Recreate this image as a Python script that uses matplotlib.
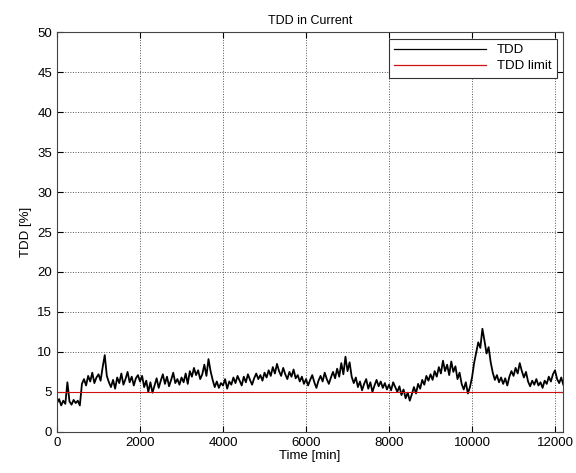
import matplotlib
matplotlib.use("Agg")
import matplotlib.pyplot as plt
import numpy as np

# TDD samples every 50 min (one row = 1000 min)
tdd = [
    3.6, 4.1, 3.3, 3.9, 3.5, 6.2, 3.8, 3.4, 4.0, 3.6, 3.9, 3.3, 6.0, 6.6, 5.8, 7.0, 6.3, 7.4, 6.1, 6.8,
    7.2, 6.4, 8.1, 9.6, 7.0, 6.2, 5.6, 6.5, 5.4, 6.8, 6.1, 7.3, 5.9, 6.6, 7.5, 6.2, 6.9, 5.8, 6.7, 7.1,
    6.3, 7.0, 5.6, 6.4, 5.0, 6.2, 4.9, 5.8, 6.7, 5.5, 6.4, 7.2, 6.0, 6.9, 5.7, 6.5, 7.4, 6.1, 6.6, 5.9,
    6.8, 6.2, 7.3, 6.0, 7.6, 6.9, 8.0, 7.1, 7.7, 6.6, 7.2, 8.4, 7.0, 9.1, 7.6, 6.5, 5.6, 6.3, 5.5, 6.1,
    5.8, 6.6, 5.4, 6.3, 5.9, 6.8, 6.1, 7.0, 6.4, 5.8, 6.9, 6.2, 7.2, 6.5, 5.9, 6.7, 7.3, 6.6, 7.1, 6.4,
    7.4, 6.8, 7.7, 7.0, 8.1, 7.3, 8.5, 7.6, 7.0, 8.0, 7.2, 6.6, 7.5, 6.9, 7.8, 6.7, 7.1, 6.3, 6.9, 6.0,
    6.6, 5.8, 6.5, 7.1, 6.2, 5.5, 6.4, 7.0, 6.3, 7.4, 6.6, 6.0, 6.8, 7.5, 6.7, 7.9, 6.9, 8.6, 7.2, 9.4,
    7.6, 8.7, 6.9, 6.1, 6.8, 5.6, 6.3, 5.2, 6.0, 6.6, 5.4, 6.2, 5.0, 5.8, 6.5, 5.7, 6.3, 5.5, 6.1, 5.3,
    5.9, 5.2, 6.2, 5.6, 5.0, 5.7, 4.6, 5.3, 4.2, 4.9, 3.9, 4.7, 5.6, 4.8, 6.0, 5.4, 6.5, 5.9, 7.0, 6.4,
    7.2, 6.5, 7.6, 6.9, 8.1, 7.3, 8.9, 7.6, 8.4, 7.1, 8.8, 7.5, 8.2, 6.6, 7.4, 6.0, 5.3, 6.2, 4.8, 5.6,
    6.8, 8.6, 9.9, 11.2, 10.5, 12.9, 11.4, 9.8, 10.6, 8.7, 7.4, 6.5, 7.1, 6.2, 6.8, 6.0, 6.7, 5.8, 6.9, 7.6,
    7.0, 8.0, 7.3, 8.6, 7.6, 6.8, 7.5, 6.3, 5.7, 6.4, 5.9, 6.6, 5.8, 6.2, 5.5, 6.4, 6.0, 6.9, 6.3, 7.2,
    7.7, 6.6, 6.1, 6.8, 5.9,
]
time_min = np.arange(len(tdd)) * 50
tdd_limit = 5.0

plt.rcParams['font.family'] = ['Liberation Sans', 'DejaVu Sans']
plt.rcParams['font.size'] = 9.5

fig = plt.figure(figsize=(5.76, 4.73), dpi=100)
ax = fig.add_axes([0.099, 0.087, 0.879, 0.845])

ax.plot(time_min, tdd, color='black', linewidth=1.3, label='TDD')
ax.plot([0, 12200], [tdd_limit, tdd_limit], color='#d01010', linewidth=0.8, label='TDD limit')

ax.set_xlim(0, 12200)
ax.set_ylim(0, 50)
ax.set_xticks(range(0, 12001, 2000))
ax.set_yticks(range(0, 51, 5))
ax.tick_params(direction='in', length=4, top=True, right=True)
ax.grid(True, linestyle=':', color='#555555', linewidth=0.7)
for s in ax.spines.values():
    s.set_color('#444444')

ax.set_title('TDD in Current', fontsize=9)
ax.set_xlabel('Time [min]', labelpad=1)
ax.set_ylabel('TDD [%]', labelpad=4)

leg = ax.legend(loc='upper right', fancybox=False, edgecolor='#333333', handlelength=7,
                borderaxespad=0.5, framealpha=1, labelspacing=0.3)
leg.get_frame().set_linewidth(0.8)
for ln in leg.get_lines():
    ln.set_linewidth(0.9)

fig.savefig('out.png', dpi=100)
